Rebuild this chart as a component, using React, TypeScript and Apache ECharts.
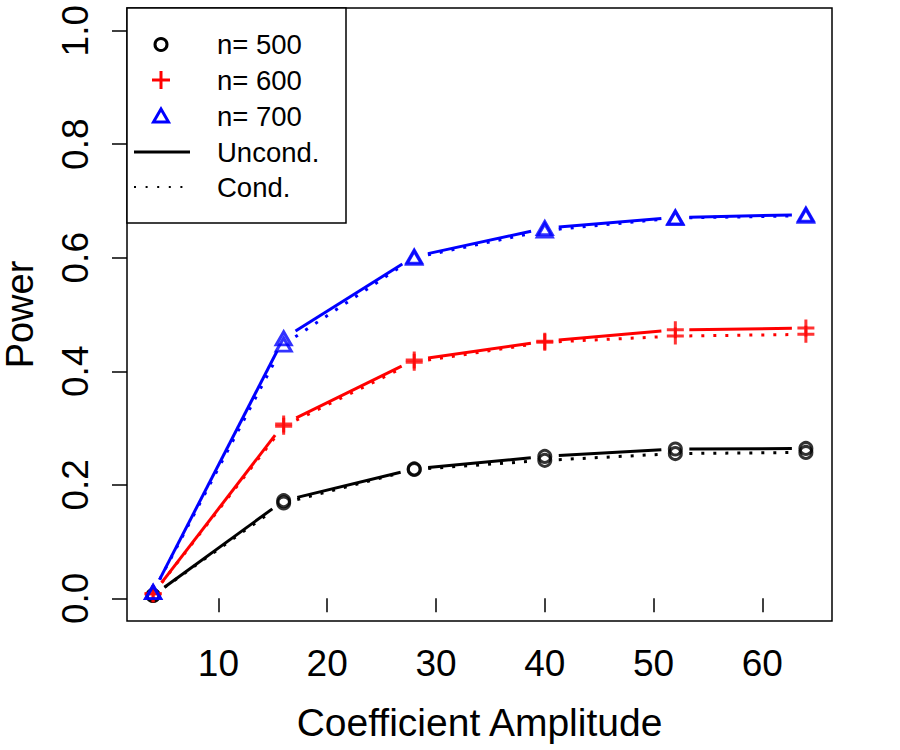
import React, { useEffect, useRef } from "react";
import * as echarts from "echarts";

// Coefficient amplitudes at which power was estimated
const amplitudes = [4, 16, 28, 40, 52, 64];

// Estimated power, unconditional and conditional tests, per sample size
const uncond500 = [0.005, 0.172, 0.228, 0.25, 0.263, 0.264];
const cond500 = [0.005, 0.168, 0.227, 0.243, 0.255, 0.257];
const uncond600 = [0.008, 0.307, 0.42, 0.453, 0.473, 0.476];
const cond600 = [0.008, 0.303, 0.416, 0.451, 0.462, 0.465];
const uncond700 = [0.011, 0.458, 0.602, 0.652, 0.671, 0.676];
const cond700 = [0.011, 0.447, 0.6, 0.648, 0.67, 0.674];

// Axis tick positions
const xTicks = [10, 20, 30, 40, 50, 60];
const yTicks = [0, 0.2, 0.4, 0.6, 0.8, 1.0];

// Legend entries
const legendLabels = ["n= 500", "n= 600", "n= 700", "Uncond.", "Cond."];

const FONT = '"Liberation Sans", Arial, Helvetica, sans-serif';
const BLACK = "#000000";
const RED = "#FF0000";
const BLUE = "#0000FF";
const GAP = 14; // gap left between a line and each point, like R's type = "b"
const PLUS = "path://M0,10L20,10M10,0L10,20";

type Group = {
  color: string;
  symbol: string;
  symbolSize: number | number[];
  uncond: number[];
  cond: number[];
};

const groups: Group[] = [
  { color: BLACK, symbol: "circle", symbolSize: 12, uncond: uncond500, cond: cond500 },
  { color: RED, symbol: PLUS, symbolSize: 17, uncond: uncond600, cond: cond600 },
  { color: BLUE, symbol: "triangle", symbolSize: [15, 13], uncond: uncond700, cond: cond700 },
];

function segments(vals: number[]) {
  return vals.slice(1).map((v, i) => [amplitudes[i], vals[i], amplitudes[i + 1], v]);
}

function gappedLine(color: string, dotted: boolean, vals: number[]) {
  return {
    type: "custom",
    silent: true,
    encode: { x: [0, 2], y: [1, 3] },
    data: segments(vals),
    renderItem: (_params: any, api: any) => {
      const a = api.coord([api.value(0), api.value(1)]);
      const b = api.coord([api.value(2), api.value(3)]);
      const dx = b[0] - a[0];
      const dy = b[1] - a[1];
      const len = Math.hypot(dx, dy) || 1;
      const ux = dx / len;
      const uy = dy / len;
      return {
        type: "line",
        shape: {
          x1: a[0] + ux * GAP,
          y1: a[1] + uy * GAP,
          x2: b[0] - ux * GAP,
          y2: b[1] - uy * GAP,
        },
        style: {
          stroke: color,
          lineWidth: 3,
          lineCap: "butt",
          lineDash: dotted ? [3, 9] : null,
        },
      };
    },
  };
}

function markers(g: Group, vals: number[]) {
  return {
    type: "scatter",
    silent: true,
    symbol: g.symbol,
    symbolSize: g.symbolSize,
    data: amplitudes.map((x, i) => [x, vals[i]]),
    itemStyle: { color: "rgba(0,0,0,0)", borderColor: g.color, borderWidth: 3 },
    z: 3,
  };
}

function buildLegend() {
  const rowsY = [44.5, 80, 116, 152, 187];
  const sx = 161;
  const tx = 217;
  const els: any[] = [
    {
      type: "rect",
      shape: { x: 127, y: 8, width: 219, height: 215 },
      style: { fill: "#ffffff", stroke: BLACK, lineWidth: 1.5 },
    },
    {
      type: "circle",
      shape: { cx: sx, cy: rowsY[0], r: 6 },
      style: { fill: "none", stroke: BLACK, lineWidth: 3 },
    },
    {
      type: "line",
      shape: { x1: sx - 9, y1: rowsY[1], x2: sx + 9, y2: rowsY[1] },
      style: { stroke: RED, lineWidth: 3 },
    },
    {
      type: "line",
      shape: { x1: sx, y1: rowsY[1] - 9, x2: sx, y2: rowsY[1] + 9 },
      style: { stroke: RED, lineWidth: 3 },
    },
    {
      type: "polygon",
      shape: {
        points: [
          [sx, rowsY[2] - 7],
          [sx - 7.5, rowsY[2] + 6],
          [sx + 7.5, rowsY[2] + 6],
        ],
      },
      style: { fill: "none", stroke: BLUE, lineWidth: 3 },
    },
    {
      type: "line",
      shape: { x1: 134, y1: rowsY[3], x2: 190, y2: rowsY[3] },
      style: { stroke: BLACK, lineWidth: 3 },
    },
    {
      type: "line",
      shape: { x1: 134, y1: rowsY[4], x2: 192, y2: rowsY[4] },
      style: { stroke: BLACK, lineWidth: 2, lineDash: [2, 9.6] },
    },
  ];
  legendLabels.forEach((label, i) => {
    els.push({
      type: "text",
      x: tx,
      y: rowsY[i],
      style: {
        text: label,
        fontSize: 27.5,
        fontFamily: FONT,
        fill: BLACK,
        verticalAlign: "middle",
        align: "left",
      },
    });
  });
  return els.map((e) => ({ ...e, z: 100, silent: true }));
}

export default function App() {
  const ref = useRef<HTMLDivElement>(null);

  useEffect(() => {
    if (!ref.current) return;
    const chart = echarts.init(ref.current, null, { renderer: "svg" });

    const series: any[] = [];
    groups.forEach((g) => {
      series.push(gappedLine(g.color, false, g.uncond));
      series.push(gappedLine(g.color, true, g.cond));
      series.push(markers(g, g.uncond));
      series.push(markers(g, g.cond));
    });

    chart.setOption({
      animation: false,
      backgroundColor: "#ffffff",
      textStyle: { fontFamily: FONT },
      grid: {
        left: 127,
        top: 8,
        right: 68,
        bottom: 129,
        containLabel: false,
        outerBoundsMode: "none",
        show: true,
        borderColor: BLACK,
        borderWidth: 1.5,
        backgroundColor: "transparent",
      },
      xAxis: {
        type: "value",
        min: 1.6,
        max: 66.4,
        name: "Coefficient Amplitude",
        nameLocation: "middle",
        nameGap: 82,
        nameTextStyle: { fontSize: 39, color: BLACK, fontFamily: FONT },
        axisLine: { show: false },
        splitLine: { show: false },
        axisTick: {
          show: true,
          length: 14,
          customValues: xTicks,
          lineStyle: { color: BLACK, width: 1.5 },
        },
        axisLabel: {
          customValues: xTicks,
          fontSize: 37,
          color: BLACK,
          fontFamily: FONT,
          margin: 24,
        },
      },
      yAxis: {
        type: "value",
        min: -0.04,
        max: 1.04,
        name: "Power",
        nameLocation: "middle",
        nameGap: 88,
        nameRotate: 90,
        nameTextStyle: { fontSize: 38, color: BLACK, fontFamily: FONT },
        axisLine: { show: false },
        splitLine: { show: false },
        axisTick: {
          show: true,
          length: 15,
          customValues: yTicks,
          lineStyle: { color: BLACK, width: 1.5 },
        },
        axisLabel: {
          customValues: yTicks,
          rotate: 90,
          fontSize: 37,
          color: BLACK,
          fontFamily: FONT,
          margin: 33,
          formatter: (v: number) => v.toFixed(1),
        },
      },
      graphic: buildLegend(),
      series,
    });

    return () => chart.dispose();
  }, []);

  return (
    <div
      ref={ref}
      style={{ position: "absolute", left: 0, top: 0, width: 900, height: 750 }}
    />
  );
}
